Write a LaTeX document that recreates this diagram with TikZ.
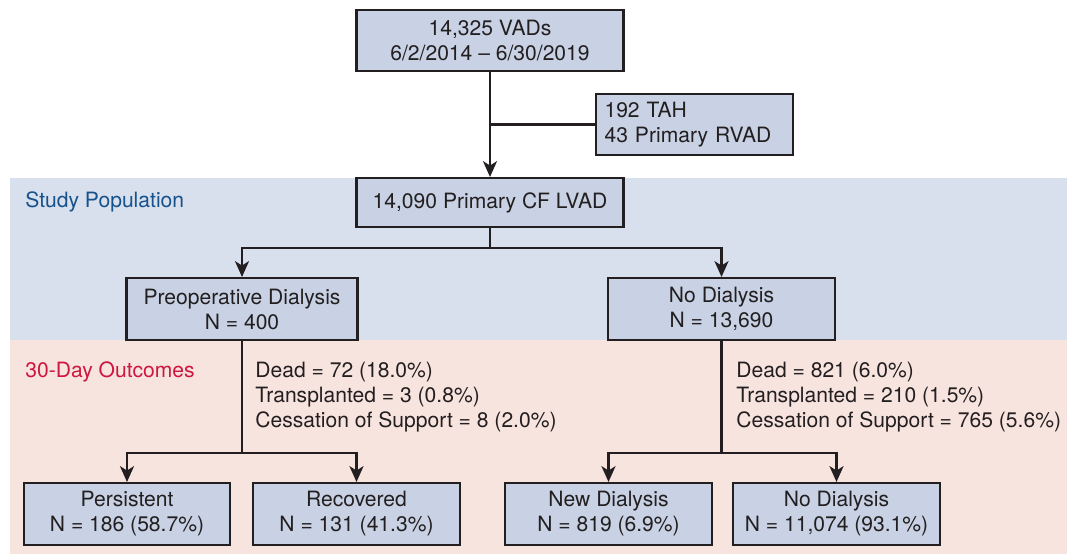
\documentclass[tikz,border=0pt]{standalone}
\usepackage{fontspec}
\setmainfont{TeX Gyre Heros}
\usepackage{tikz}
\usetikzlibrary{positioning,calc}
\usetikzlibrary{arrows.meta}
\definecolor{BoxBlue}{RGB}{200,210,228}
\definecolor{BandBlue}{RGB}{216,223,237}
\definecolor{BandPink}{RGB}{248,228,223}
\definecolor{InkGray}{RGB}{35,31,32}
\definecolor{StudyBlue}{RGB}{22,82,140}
\definecolor{OutRed}{RGB}{206,22,62}
\tikzset{
  box/.style={draw=InkGray,fill=BoxBlue,line width=1.2pt,inner sep=3pt,
    minimum width=4.14cm,minimum height=1.24cm,align=center,
    font=\fontsize{12}{14.2}\selectfont,text=InkGray},
  link/.style={draw=InkGray,line width=1.2pt},
  arr/.style={link,-{Stealth[length=9pt,width=8pt,inset=2.5pt]}},
  counts/.style={anchor=west,align=left,inner sep=0pt,
    font=\fontsize{12}{14.2}\selectfont,text=InkGray},
  band/.style={font=\fontsize{12}{14.2}\selectfont,anchor=west,inner sep=0pt},
}

\begin{document}
\begin{tikzpicture}[x=0.02cm,y=-0.02cm]
\useasboundingbox (0,0) rectangle (1067,554);
% background bands
\fill[BandBlue] (10,178) rectangle (1067,340);
\fill[BandPink] (10,340) rectangle (1067,554);
\node[band,text=StudyBlue] (study) at (25,202) {Study Population};
\node[band,text=OutRed] (outc) at (25,372) {30-Day Outcomes};
% boxes
\node[box,minimum width=5.34cm,minimum height=1.22cm] (vads) at (490,40.5) {14,325 VADs\\6/2/2014 -- 6/30/2019};
\node[box,minimum width=3.94cm,minimum height=1.22cm,align=left,text width=3.6cm] (tah) at (694.5,124.5) {192 TAH\\43 Primary RVAD};
\node[box,minimum width=5.34cm,minimum height=0.98cm] (lvad) at (490,202.5) {14,090 Primary CF LVAD};
\node[box,minimum width=4.62cm] (preop) at (242,309) {Preoperative Dialysis\\N = 400};
\node[box,minimum width=4.54cm] (nodial) at (721.5,309) {No Dialysis\\N = 13,690};
\node[box,minimum width=4.12cm] (pers) at (127,514) {Persistent\\N = 186 (58.7\%)};
\node[box] (recov) at (356.5,514) {Recovered\\N = 131 (41.3\%)};
\node[box] (newdial) at (608.5,514) {New Dialysis\\N = 819 (6.9\%)};
\node[box] (nodial2) at (836.5,514) {No Dialysis\\N = 11,074 (93.1\%)};
% split points
\coordinate (s0) at (490,248);
\coordinate (s1) at (242,453);
\coordinate (s2) at (721.5,453);
% connectors
\draw[arr] (vads) -- (lvad);
\draw[link] (tah.west) -- (tah.west -| vads.south);
\draw[link] (lvad.south) -- (s0);
\draw[arr] (s0) -| (preop);
\draw[arr] (s0) -| (nodial);
\draw[link] (preop.south) -- (s1);
\draw[arr] (s1) -| (pers);
\draw[arr] (s1) -| (recov);
\draw[link] (nodial.south) -- (s2);
\draw[arr] (s2) -| (newdial);
\draw[arr] (s2) -| (nodial2);
% outcome counts
\node[counts] (cntL) at (255,397) {Dead = 72 (18.0\%)\\Transplanted = 3 (0.8\%)\\Cessation of Support = 8 (2.0\%)};
\node[counts] (cntR) at (736,397) {Dead = 821 (6.0\%)\\Transplanted = 210 (1.5\%)\\Cessation of Support = 765 (5.6\%)};
\end{tikzpicture}
\end{document}
